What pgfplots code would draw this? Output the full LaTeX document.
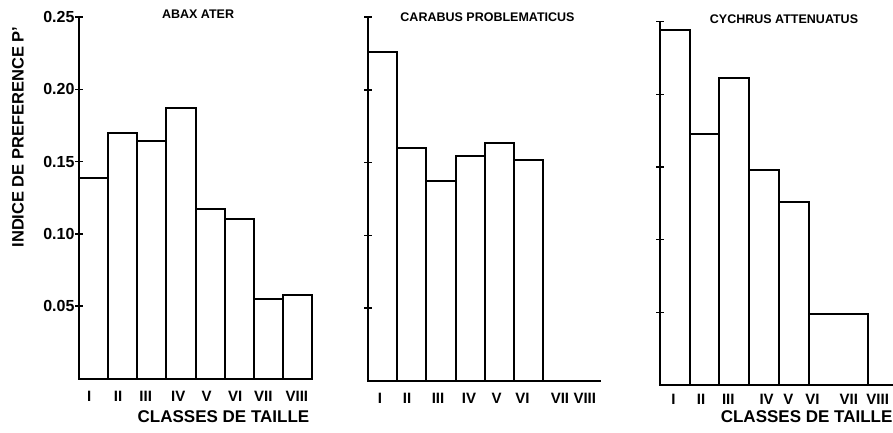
\documentclass[border=0pt]{standalone}
\usepackage{fontspec}
\setmainfont{Liberation Sans}
\usepackage{pgfplots}
\pgfplotsset{compat=1.18}
\begin{document}
\begin{tikzpicture}
\pgfplotsset{
  panel/.style={
    scale only axis,
    axis lines=left,
    axis line style={-, line width=1.6pt},
    xmin=0, xmax=8, ymin=0, ymax=0.25,
    ytick={0.05,0.1,0.15,0.2,0.25},
    tick align=center,
    major tick length=8pt,
    every tick/.append style={line width=1.5pt, black},
    xtick style={draw=none},
    xticklabels={I,II,III,IV,V,VI,VII,VIII},
    xticklabel style={font=\fontsize{15}{15}\selectfont\bfseries, yshift=-5pt},
    yticklabel style={font=\fontsize{16}{16}\selectfont\bfseries, xshift=3pt},
    clip=false,
    /pgf/number format/assume math mode=true,
    title style={font=\fontsize{12.5}{13}\selectfont\bfseries, anchor=center},
    xlabel style={font=\fontsize{17}{17}\selectfont\bfseries, anchor=center},
    ylabel style={font=\fontsize{16.5}{17}\selectfont\bfseries, anchor=center},
  },
}
% Panel 1: Abax ater
\begin{axis}[panel, at={(79pt,53.5pt)}, anchor=south west, width=233pt, height=361.5pt,
  xtick={0.35,1.34,2.29,3.41,4.38,5.36,6.33,7.48},
  yticklabels={0.05,0.10,0.15,0.20,0.25},
  title={ABAX ATER}, title style={at={(axis description cs:0.511,0.992)}},
  xlabel={CLASSES DE TAILLE}, xlabel style={at={(axis description cs:0.62,-0.1065)}},
  ylabel={INDICE DE PREFERENCE P'}, ylabel style={at={(axis description cs:-0.262,0.668)}},
]
\addplot[ybar interval, draw=black, line width=2pt] coordinates {
 (0,0.139) (1,0.170) (2,0.1645) (3,0.187) (4,0.117) (5,0.1105) (6,0.0553) (7,0.0576) (8,0)};
\end{axis}
% Panel 2: Carabus problematicus
\begin{axis}[panel, at={(368pt,51pt)}, anchor=south west, width=233.4pt, height=364pt,
  xtick={0.41,1.34,2.4,3.46,4.41,5.29,6.58,7.43},
  yticklabels={},
  title={CARABUS PROBLEMATICUS}, title style={at={(axis description cs:0.512,0.9835)}},
]
\addplot[ybar interval, draw=black, line width=2pt] coordinates {
 (0,0.226) (1,0.160) (2,0.1376) (3,0.1547) (4,0.1637) (5,0.152) (6,0)};
\end{axis}
% Panel 3: Cychrus attenuatus
\begin{axis}[panel, at={(660pt,47pt)}, anchor=south west, width=237.6pt, height=363.3pt,
  xtick={0.45,1.38,2.30,3.59,4.32,5.13,6.36,7.33},
  xticklabel style={yshift=3pt},
  yticklabels={},
  title={CYCHRUS ATTENUATUS}, title style={at={(axis description cs:0.522,0.991)}},
  xlabel={CLASSES DE TAILLE}, xlabel style={at={(axis description cs:0.617,-0.087)}},
]
\addplot[ybar interval, draw=black, line width=2pt] coordinates {
 (0,0.2443) (1,0.173) (2,0.211) (3,0.148) (4,0.1257) (5,0.0489) (7,0)};
\end{axis}
\pgfresetboundingbox
\path[use as bounding box] (0pt,0pt) rectangle (893pt,432pt);
\end{tikzpicture}
\end{document}
